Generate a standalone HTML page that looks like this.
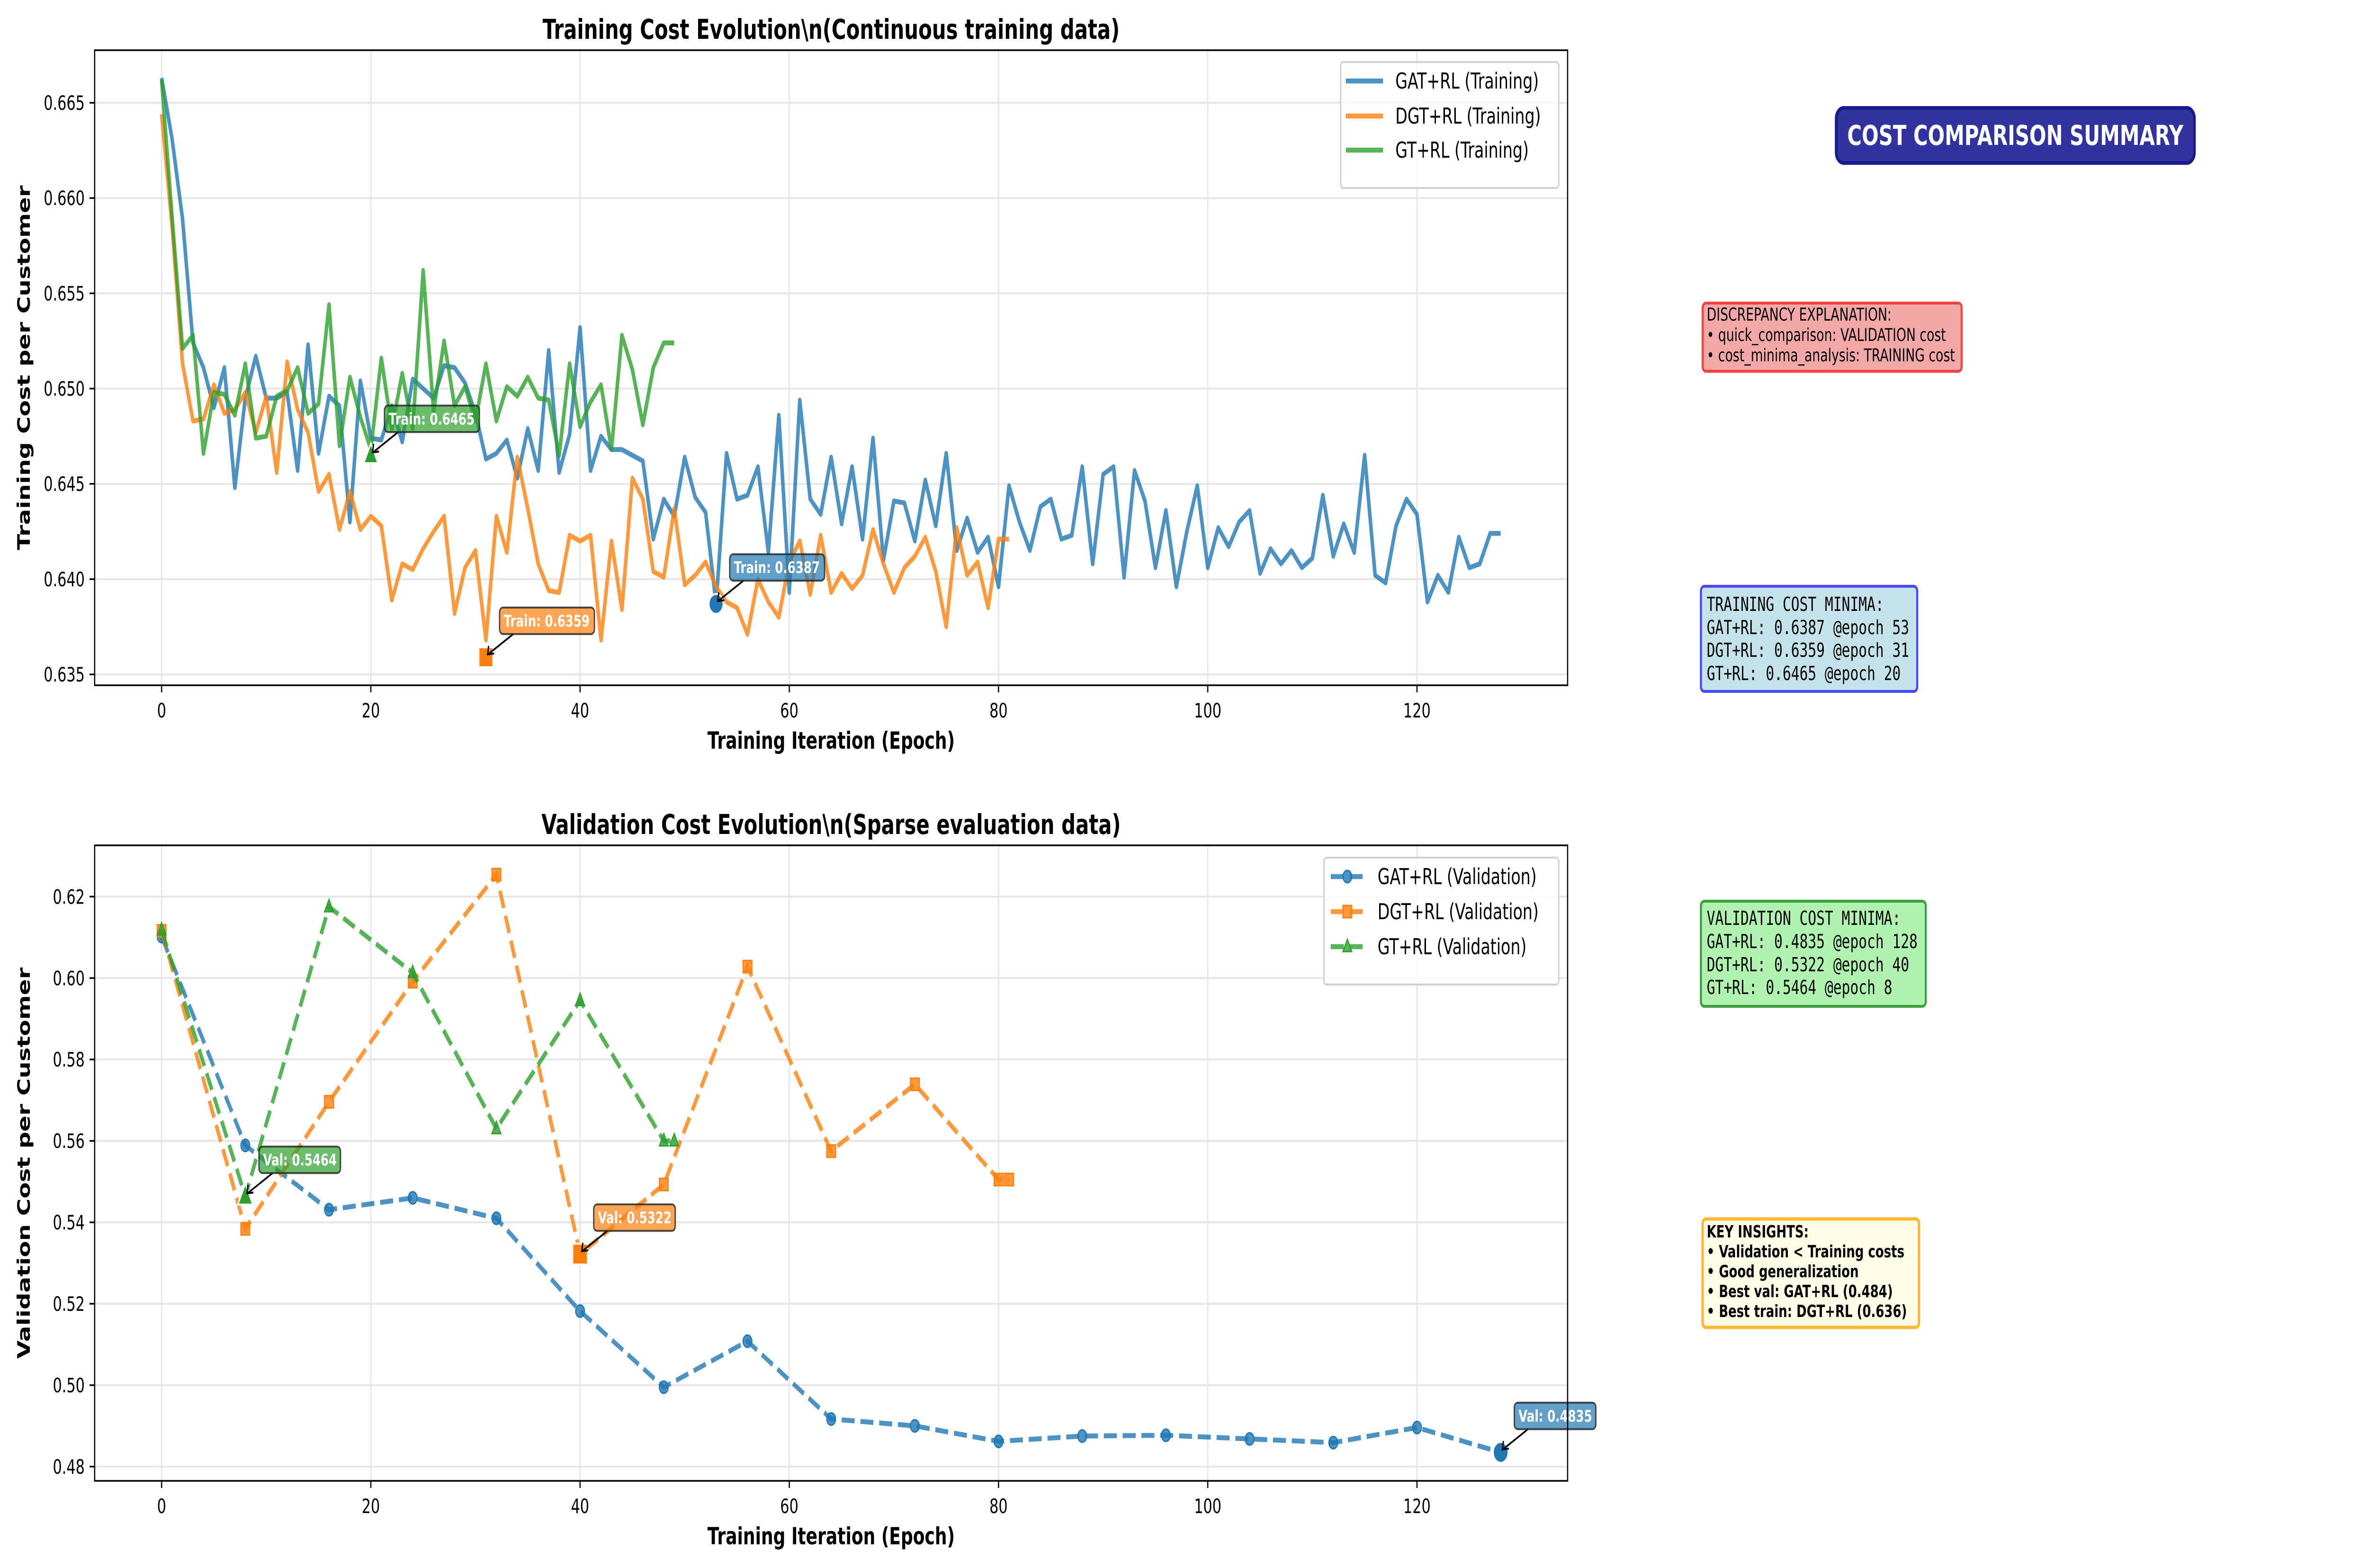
<!DOCTYPE html>
<html><head><meta charset="utf-8"><style>
html,body{margin:0;padding:0;background:#fff;width:100%;height:100%;overflow:hidden}
svg{display:block;width:100%;height:100%}
text{font-family:"DejaVu Sans","Liberation Sans",sans-serif}
.mono{font-family:"DejaVu Sans Mono","Liberation Mono",monospace}
</style></head><body>
<svg id="fig" viewBox="0 0 6929 3311" preserveAspectRatio="none" xmlns="http://www.w3.org/2000/svg">
<rect width="6929" height="3311" fill="#fff"/>
<g id="top"></g>
<g id="bot"></g>

<g>
 <rect x="5373" y="228" width="1048" height="116" rx="22" fill="#3333a0" stroke="#1a1a8a" stroke-width="8"/>
 <text x="5897" y="306" font-size="58" font-weight="bold" fill="#fff" text-anchor="middle">COST COMPARISON SUMMARY</text>

 <rect x="4982" y="640" width="758" height="144" rx="10" fill="#f4a7a7" stroke="#ff4040" stroke-width="6"/>
 <text font-size="37">
  <tspan x="4994" y="677">DISCREPANCY EXPLANATION:</tspan>
  <tspan x="4994" y="720">• quick_comparison: VALIDATION cost</tspan>
  <tspan x="4994" y="763">• cost_minima_analysis: TRAINING cost</tspan>
 </text>

 <rect x="4977" y="1238" width="633" height="222" rx="10" fill="#c3e2ea" stroke="#4848ff" stroke-width="6"/>
 <text class="mono" font-size="41">
  <tspan x="4994" y="1290">TRAINING COST MINIMA:</tspan>
  <tspan x="4994" y="1339">GAT+RL: 0.6387 @epoch 53</tspan>
  <tspan x="4994" y="1387">DGT+RL: 0.6359 @epoch 31</tspan>
  <tspan x="4994" y="1436">GT+RL: 0.6465 @epoch 20</tspan>
 </text>

 <rect x="4977" y="1903" width="658" height="222" rx="10" fill="#b0f2b0" stroke="#3ca03c" stroke-width="6"/>
 <text class="mono" font-size="41">
  <tspan x="4994" y="1953">VALIDATION COST MINIMA:</tspan>
  <tspan x="4994" y="2002">GAT+RL: 0.4835 @epoch 128</tspan>
  <tspan x="4994" y="2051">DGT+RL: 0.5322 @epoch 40</tspan>
  <tspan x="4994" y="2099">GT+RL: 0.5464 @epoch 8</tspan>
 </text>

 <rect x="4982" y="2574" width="633" height="229" rx="10" fill="#fffde6" stroke="#ffb732" stroke-width="7"/>
 <text font-size="36" font-weight="bold">
  <tspan x="4994" y="2613">KEY INSIGHTS:</tspan>
  <tspan x="4994" y="2655">• Validation &lt; Training costs</tspan>
  <tspan x="4994" y="2697">• Good generalization</tspan>
  <tspan x="4994" y="2739">• Best val: GAT+RL (0.484)</tspan>
  <tspan x="4994" y="2781">• Best train: DGT+RL (0.636)</tspan>
 </text>
</g>
</svg>
<script>
// ---- Training data ----
const gatTrain = [0.6663,0.6631,0.6589,0.6524,0.6511,0.6490,0.6511,0.6448,0.6495,0.6517,0.6495,0.6495,0.6498,0.6457,0.6523,0.6466,0.6496,0.6491,0.6430,0.6504,0.6474,0.6473,0.6491,0.6472,0.6505,0.6500,0.6495,0.6512,0.6511,0.6503,0.6487,0.6463,0.6466,0.6473,0.6453,0.6479,0.6457,0.6520,0.6456,0.6476,0.6532,0.6457,0.6475,0.6468,0.6468,0.6465,0.6462,0.6421,0.6442,0.6433,0.6464,0.6443,0.6435,0.6387,0.6466,0.6442,0.6444,0.6459,0.6414,0.6486,0.6393,0.6494,0.6442,0.6434,0.6464,0.6429,0.6459,0.6421,0.6474,0.6410,0.6441,0.6440,0.6420,0.6452,0.6428,0.6466,0.6415,0.6432,0.6414,0.6422,0.6396,0.6449,0.6430,0.6415,0.6438,0.6442,0.6421,0.6423,0.6459,0.6408,0.6455,0.6459,0.6401,0.6457,0.6441,0.6406,0.6436,0.6396,0.6425,0.6449,0.6406,0.6427,0.6417,0.6430,0.6436,0.6403,0.6416,0.6408,0.6415,0.6406,0.6411,0.6444,0.6412,0.6429,0.6414,0.6465,0.6402,0.6398,0.6428,0.6442,0.6434,0.6388,0.6402,0.6393,0.6422,0.6406,0.6408,0.6424,0.6424];
const dgtTrain = [0.6644,0.6585,0.6513,0.6483,0.6484,0.6502,0.6487,0.6489,0.6498,0.6477,0.6496,0.6456,0.6514,0.6489,0.6477,0.6446,0.6455,0.6426,0.6446,0.6426,0.6433,0.6428,0.6389,0.6408,0.6405,0.6416,0.6425,0.6433,0.6382,0.6406,0.6415,0.6368,0.6433,0.6414,0.6464,0.6437,0.6408,0.6394,0.6393,0.6423,0.6420,0.6423,0.6368,0.6420,0.6384,0.6453,0.6442,0.6404,0.6401,0.6437,0.6397,0.6402,0.6409,0.6396,0.6388,0.6385,0.6371,0.6400,0.6388,0.6380,0.6409,0.6420,0.6392,0.6423,0.6393,0.6403,0.6395,0.6402,0.6426,0.6408,0.6393,0.6406,0.6412,0.6422,0.6404,0.6375,0.6427,0.6402,0.6409,0.6385,0.6421,0.6421];
const gtTrain = [0.6662,0.6590,0.6521,0.6528,0.6466,0.6498,0.6497,0.6486,0.6513,0.6474,0.6475,0.6496,0.6499,0.6511,0.6487,0.6492,0.6544,0.6470,0.6506,0.6485,0.6468,0.6516,0.6479,0.6508,0.6479,0.6562,0.6488,0.6525,0.6491,0.6501,0.6483,0.6513,0.6483,0.6501,0.6496,0.6506,0.6495,0.6494,0.6465,0.6513,0.6480,0.6493,0.6502,0.6468,0.6528,0.6510,0.6481,0.6511,0.6524,0.6524];
const trainMinEpochs = [53,31,20];
const trainMinValues = [0.6387,0.6359,0.6465];
const trainTicksY = [0.635,0.640,0.645,0.650,0.655,0.660,0.665];
const trainTickLabelsY = ["0.635","0.640","0.645","0.650","0.655","0.660","0.665"];
const ticksX = [0,20,40,60,80,100,120];
const tickLabelsX = ["0","20","40","60","80","100","120"];
// ---- Validation data ----
const gatValEpochs = [0,8,16,24,32,40,48,56,64,72,80,88,96,104,112,120,128];
const gatVal = [0.6102,0.5589,0.5431,0.5460,0.5410,0.5182,0.4995,0.5108,0.4917,0.4900,0.4862,0.4875,0.4877,0.4868,0.4859,0.4896,0.4835];
const dgtValEpochs = [0,8,16,24,32,40,48,56,64,72,80,81];
const dgtVal = [0.6116,0.5384,0.5696,0.5991,0.6254,0.5322,0.5493,0.6028,0.5575,0.5739,0.5505,0.5505];
const gtValEpochs = [0,8,16,24,32,40,48,49];
const gtVal = [0.6118,0.5464,0.6175,0.6013,0.5630,0.5945,0.5600,0.5600];
const valMinEpochs = [128,40,8];
const valMinValues = [0.4835,0.5322,0.5464];
const valTicksY = [0.48,0.50,0.52,0.54,0.56,0.58,0.60,0.62];
const valTickLabelsY = ["0.48","0.50","0.52","0.54","0.56","0.58","0.60","0.62"];

const NS = "http://www.w3.org/2000/svg";
const COLORS = ["#1f77b4","#ff7f0e","#2ca02c"];
function mk(tag, attrs, parent){const e=document.createElementNS(NS,tag);for(const k in attrs)e.setAttribute(k,attrs[k]);parent.appendChild(e);return e;}
const X0=277,X1=4587,XMIN=-6.4,XMAX=134.4;
function xs(e){return X0+(e-XMIN)/(XMAX-XMIN)*(X1-X0);}

function axes(g, top, bottom, ymin, ymax, ticks, labels, title, ylabel){
  const ys=v=>bottom-(v-ymin)/(ymax-ymin)*(bottom-top);
  ticksX.forEach((t,i)=>{
    const gl=mk('line',{x1:xs(t),x2:xs(t),y1:top,y2:bottom,stroke:'#e6e6e6','stroke-width':4},g);
    
    
    const tk=mk('line',{x1:xs(t),x2:xs(t),y1:bottom,y2:bottom+15,stroke:'#000','stroke-width':3.5},g);
    
    
    const tl=mk('text',{x:xs(t),y:bottom+68,'font-size':42,'text-anchor':'middle'},g);
    tl.textContent=tickLabelsX[i];
    
    
  });
  ticks.forEach((t,i)=>{
    const gl=mk('line',{x1:X0,x2:X1,y1:ys(t),y2:ys(t),stroke:'#e6e6e6','stroke-width':4},g);
    
    
    const tk=mk('line',{x1:X0-15,x2:X0,y1:ys(t),y2:ys(t),stroke:'#000','stroke-width':3.5},g);
    
    
    const tl=mk('text',{x:X0-29,y:ys(t)+15,'font-size':42,'text-anchor':'end'},g);
    tl.textContent=labels[i];
    
    
  });
  const tt=mk('text',{x:(X0+X1)/2,y:top-24,'font-size':58,'font-weight':'bold','text-anchor':'middle'},g);
  tt.textContent=title;
  
  
  const xl=mk('text',{x:(X0+X1)/2,y:bottom+134,'font-size':50,'font-weight':'bold','text-anchor':'middle'},g);
  xl.textContent='Training Iteration (Epoch)';
  
  
  const cy=(top+bottom)/2;
  const yl=mk('text',{x:0,y:0,'font-size':50,'font-weight':'bold','text-anchor':'middle',transform:`translate(${X0-190},${cy}) rotate(-90)`},g);
  yl.textContent=ylabel;
  
  
  return ys;
}
function frame(g,top,bottom){
  const r=mk('rect',{x:X0,y:top,width:X1-X0,height:bottom-top,fill:'none',stroke:'#000','stroke-width':3.5},g);
  
  
}
function marker(g,kind,x,y,size,color,op,sw){
  let m;
  if(kind==='o') m=mk('circle',{cx:x,cy:y,r:size/2,fill:color,'fill-opacity':op,stroke:color,'stroke-width':sw||3},g);
  else if(kind==='s') m=mk('rect',{x:x-size/2,y:y-size/2,width:size,height:size,fill:color,'fill-opacity':op,stroke:color,'stroke-width':sw||3},g);
  else m=mk('polygon',{points:`${x},${y-size*0.6} ${x-size/2},${y+size*0.4} ${x+size/2},${y+size*0.4}`,fill:color,'fill-opacity':op,stroke:color,'stroke-width':sw||3},g);
  return m;
}
function annot(g,x,y,txt,color){
  const bx=x+40, bw=txt.length*19.5+24, bh=56, by=y-105;
  const ar=mk('line',{x1:bx+40,y1:by+bh,x2:x+6,y2:y-6,stroke:'#000','stroke-width':4},g);
  
  
  const ah=mk('polyline',{points:`${x+8},${y-24} ${x+5},${y-6} ${x+24},${y-8}`,fill:'none',stroke:'#000','stroke-width':4},g);
  
  
  const r=mk('rect',{x:bx,y:by,width:bw,height:bh,rx:10,fill:color,'fill-opacity':0.7,stroke:'#222','stroke-opacity':0.8,'stroke-width':4},g);
  
  
  const t=mk('text',{x:bx+12,y:by+40,'font-size':34,'font-weight':'bold',fill:'#fff'},g);
  t.textContent=txt;
  
  
}
function legend(g,x,y,w,rowY,names,markers,hx1,hx2,tx,dashed){
  const b=mk('rect',{x:x,y:y,width:w,height:rowY[2]-rowY[0]+120,rx:8,fill:'#fff','fill-opacity':0.8,stroke:'#d0d0d0','stroke-width':4},g);
  
  
  names.forEach((n,i)=>{
    const l=mk('line',{x1:hx1,x2:hx2,y1:rowY[i],y2:rowY[i],stroke:COLORS[i],'stroke-opacity':0.8,'stroke-width':10.4},g);
    if(dashed) l.setAttribute('stroke-dasharray','38 17');
    
    
    if(markers){const m=marker(g,markers[i],(hx1+hx2)/2,rowY[i],26,COLORS[i],0.8);
      
      }
    const t=mk('text',{x:tx,y:rowY[i]+16,'font-size':46},g);
    t.textContent=n;
    
    
  });
}

// ---- Top chart ----
const gt=document.getElementById('top');
const TT=106,TB=1447;
const ysT=axes(gt,TT,TB,0.63443,0.66776,trainTicksY,trainTickLabelsY,'Training Cost Evolution\\n(Continuous training data)','Training Cost per Customer');
[gatTrain,dgtTrain,gtTrain].forEach((s,i)=>{
  const p=mk('polyline',{points:s.map((v,e)=>xs(e)+','+ysT(v)).join(' '),fill:'none',stroke:COLORS[i],'stroke-opacity':0.8,'stroke-width':10.4,'stroke-linejoin':'round'},gt);
  
  
});
['o','s','^'].forEach((k,i)=>{
  const m=marker(gt,k,xs(trainMinEpochs[i]),ysT(trainMinValues[i]),42,COLORS[i],1,4);
  m.setAttribute('stroke','#fff');
  
  
  annot(gt,xs(trainMinEpochs[i]),ysT(trainMinValues[i]),'Train: '+trainMinValues[i].toFixed(4),COLORS[i]);
});
frame(gt,TT,TB);
legend(gt,3923,131,638,[171,245,317],['GAT+RL (Training)','DGT+RL (Training)','GT+RL (Training)'],null,3938,4047,4083,false);

// ---- Bottom chart ----
const gb=document.getElementById('bot');
const BT=1785,BB=3127;
const ysB=axes(gb,BT,BB,0.4765,0.6326,valTicksY,valTickLabelsY,'Validation Cost Evolution\\n(Sparse evaluation data)','Validation Cost per Customer');
[[gatValEpochs,gatVal,'o'],[dgtValEpochs,dgtVal,'s'],[gtValEpochs,gtVal,'^']].forEach((d,i)=>{
  const p=mk('polyline',{points:d[0].map((e,j)=>xs(e)+','+ysB(d[1][j])).join(' '),fill:'none',stroke:COLORS[i],'stroke-opacity':0.8,'stroke-width':10.4,'stroke-dasharray':'38 17'},gb);
  
  
  d[0].forEach((e,j)=>{
    const m=marker(gb,d[2],xs(e),ysB(d[1][j]),26,COLORS[i],0.8);
    
    
  });
});
['o','s','^'].forEach((k,i)=>{
  const m=marker(gb,k,xs(valMinEpochs[i]),ysB(valMinValues[i]),44,COLORS[i],1,4);
  m.setAttribute('stroke','#fff');
  
  
  annot(gb,xs(valMinEpochs[i]),ysB(valMinValues[i]),'Val: '+valMinValues[i].toFixed(4),COLORS[i]);
});
frame(gb,BT,BB);
legend(gb,3874,1811,687,[1851,1925,1999],['GAT+RL (Validation)','DGT+RL (Validation)','GT+RL (Validation)'],['o','s','^'],3894,3991,4031,true);
</script>
</body></html>
